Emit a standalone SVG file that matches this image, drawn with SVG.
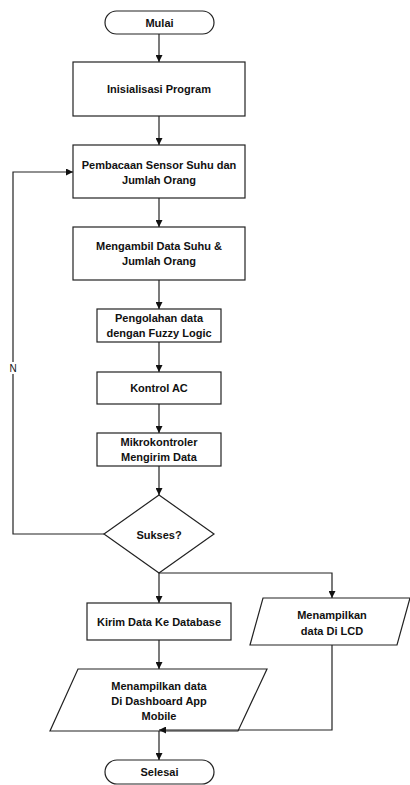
<svg xmlns="http://www.w3.org/2000/svg" width="410" height="785" viewBox="0 0 410 785">
<style>
.s{fill:#fff;stroke:#222;stroke-width:1.2}
.t{font-family:"Liberation Sans",Arial,sans-serif;font-weight:bold;font-size:11px;fill:#111;text-anchor:middle}
.c{fill:none;stroke:#222;stroke-width:1.2}
</style>
<defs>
<marker id="a" viewBox="0 0 10 10" refX="10" refY="5" markerWidth="7" markerHeight="7" markerUnits="userSpaceOnUse" orient="auto"><path d="M0,0L10,5L0,10z" fill="#111"/></marker>
</defs>
<rect width="410" height="785" fill="#fff"/>
<g id="mulai"><rect class="s" x="105" y="11" width="109" height="23" rx="11.5"/><text class="t" x="159.5" y="26.5">Mulai</text></g>
<g id="inisialisasi"><rect class="s" x="73" y="62" width="172" height="54"/><text class="t" x="159" y="93">Inisialisasi Program</text></g>
<g id="pembacaan"><rect class="s" x="73" y="145" width="172" height="53"/><text class="t" x="159" y="169">Pembacaan Sensor Suhu dan</text><text class="t" x="159" y="184">Jumlah Orang</text></g>
<g id="mengambil"><rect class="s" x="73" y="227" width="172" height="53"/><text class="t" x="159" y="250">Mengambil Data Suhu &amp;</text><text class="t" x="159" y="265">Jumlah Orang</text></g>
<g id="pengolahan"><rect class="s" x="97" y="309" width="124" height="33"/><text class="t" x="159" y="322">Pengolahan data</text><text class="t" x="159" y="337">dengan Fuzzy Logic</text></g>
<g id="kontrol"><rect class="s" x="97" y="372" width="124" height="32"/><text class="t" x="159" y="392">Kontrol AC</text></g>
<g id="mikrokontroler"><rect class="s" x="97" y="433" width="124" height="33"/><text class="t" x="159" y="446">Mikrokontroler</text><text class="t" x="159" y="461">Mengirim Data</text></g>
<g id="sukses"><path class="s" d="M159,495L214,534L159,573L104,534z"/><text class="t" x="159" y="539">Sukses?</text></g>
<g id="kirim"><rect class="s" x="87" y="603" width="144" height="37"/><text class="t" x="159" y="626">Kirim Data Ke Database</text></g>
<g id="lcd"><path class="s" d="M263,598H410L397,645H250z"/><text class="t" x="332" y="619">Menampilkan</text><text class="t" x="332" y="635">data Di LCD</text></g>
<g id="dashboard"><path class="s" d="M78,669H267L238,731H50z"/><text class="t" x="159" y="690">Menampilkan data</text><text class="t" x="159" y="705">Di Dashboard App</text><text class="t" x="159" y="720">Mobile</text></g>
<g id="selesai"><rect class="s" x="105" y="760" width="109" height="24" rx="12"/><text class="t" x="159.5" y="776">Selesai</text></g>
<g id="connectors">
<path class="c" d="M159,34V62" marker-end="url(#a)"/>
<path class="c" d="M159,116V145" marker-end="url(#a)"/>
<path class="c" d="M159,198V227" marker-end="url(#a)"/>
<path class="c" d="M159,280V309" marker-end="url(#a)"/>
<path class="c" d="M159,342V372" marker-end="url(#a)"/>
<path class="c" d="M159,404V433" marker-end="url(#a)"/>
<path class="c" d="M159,466V495" marker-end="url(#a)"/>
<path class="c" d="M104,534H13V172H73" marker-end="url(#a)"/>
<path class="c" d="M159,573V603" marker-end="url(#a)"/>
<path class="c" d="M159,573H332V598" marker-end="url(#a)"/>
<path class="c" d="M159,640V669" marker-end="url(#a)"/>
<path class="c" d="M332,645V730H159" marker-end="url(#a)"/>
<path class="c" d="M159,731V760" marker-end="url(#a)"/>
<rect x="7" y="362" width="12" height="12" fill="#fff"/>
<text x="13" y="372" class="t" style="font-weight:normal;font-size:10px">N</text>
</g>
</svg>
